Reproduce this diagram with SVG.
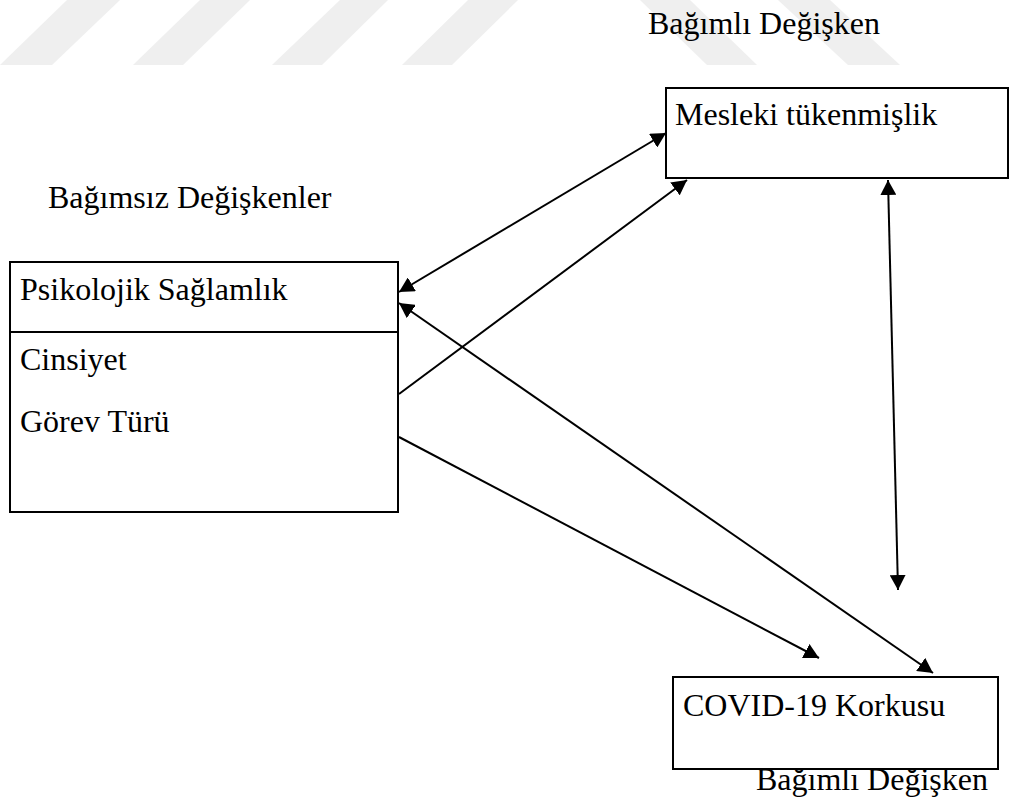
<svg xmlns="http://www.w3.org/2000/svg" width="1011" height="810" viewBox="0 0 1011 810">
<style>
.box{fill:#fff;stroke:#000;stroke-width:2}
.t{font-family:"Liberation Serif","Times New Roman",serif;font-size:32px;fill:#000}
.c{fill:none;stroke:#000;stroke-width:2}
.wm{fill:#efefef}
</style>
<defs>
<marker id="ah" markerUnits="userSpaceOnUse" markerWidth="16" markerHeight="16" refX="15" refY="8" orient="auto-start-reverse">
<path d="M0,0 L15,8 L0,16 Z" fill="#000"/>
</marker>
</defs>
<rect width="1011" height="810" fill="#fff"/>
<g id="watermark">
<polygon class="wm" points="0,65 52,65 120,0 67,0"/>
<polygon class="wm" points="133,65 183,65 250,0 200,0"/>
<polygon class="wm" points="272,65 322,65 388,0 340,0"/>
<polygon class="wm" points="402,65 452,65 518,0 468,0"/>
<polygon class="wm" points="707,65 757,65 690,0 640,0"/>
<polygon class="wm" points="848,65 900,65 830,0 778,0"/>
</g>
<text class="t" x="648" y="34">Bağımlı Değişken</text>
<text class="t" x="48" y="208">Bağımsız Değişkenler</text>
<text class="t" x="756" y="790">Bağımlı Değişken</text>
<g id="mesleki">
<rect class="box" x="666" y="88" width="342" height="90"/>
<text class="t" x="675" y="125">Mesleki tükenmişlik</text>
</g>
<g id="bagimsiz">
<rect class="box" x="10" y="262" width="388" height="250"/>
<line x1="10" y1="332" x2="398" y2="332" stroke="#000" stroke-width="2"/>
<text class="t" x="20" y="300">Psikolojik Sağlamlık</text>
<text class="t" x="20" y="370">Cinsiyet</text>
<text class="t" x="20" y="432">Görev Türü</text>
</g>
<g id="covid">
<rect class="box" x="673" y="677" width="325" height="92"/>
<text class="t" x="683" y="716">COVID-19 Korkusu</text>
</g>
<g id="connectors">
<line class="c" x1="399" y1="292" x2="666" y2="133" marker-start="url(#ah)" marker-end="url(#ah)"/>
<line class="c" x1="399" y1="394" x2="687" y2="180" marker-end="url(#ah)"/>
<line class="c" x1="888" y1="180" x2="898" y2="590" marker-start="url(#ah)" marker-end="url(#ah)"/>
<line class="c" x1="399" y1="437" x2="819" y2="658" marker-end="url(#ah)"/>
<line class="c" x1="399" y1="303" x2="933" y2="673" marker-start="url(#ah)" marker-end="url(#ah)"/>
</g>
</svg>
